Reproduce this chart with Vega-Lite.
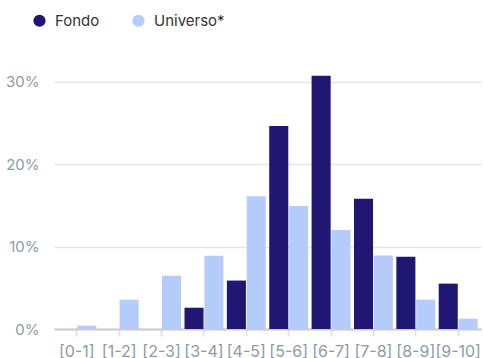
{
  "$schema": "https://vega.github.io/schema/vega-lite/v6.json",
  "autosize": "none",
  "width": 427,
  "height": 264,
  "padding": {"left": 54, "top": 65, "right": 2, "bottom": 29},
  "background": "white",
  "config": {
    "font": "Inter",
    "view": {"stroke": null}
  },
  "data": {
    "values": [
      {"rango": "[0-1]", "serie": "Fondo", "valor": 0.0},
      {"rango": "[0-1]", "serie": "Universo*", "valor": 0.004},
      {"rango": "[1-2]", "serie": "Fondo", "valor": 0.0},
      {"rango": "[1-2]", "serie": "Universo*", "valor": 0.0355},
      {"rango": "[2-3]", "serie": "Fondo", "valor": 0.0},
      {"rango": "[2-3]", "serie": "Universo*", "valor": 0.0645},
      {"rango": "[3-4]", "serie": "Fondo", "valor": 0.0258},
      {"rango": "[3-4]", "serie": "Universo*", "valor": 0.0887},
      {"rango": "[4-5]", "serie": "Fondo", "valor": 0.0587},
      {"rango": "[4-5]", "serie": "Universo*", "valor": 0.161},
      {"rango": "[5-6]", "serie": "Fondo", "valor": 0.246},
      {"rango": "[5-6]", "serie": "Universo*", "valor": 0.149},
      {"rango": "[6-7]", "serie": "Fondo", "valor": 0.307},
      {"rango": "[6-7]", "serie": "Universo*", "valor": 0.120},
      {"rango": "[7-8]", "serie": "Fondo", "valor": 0.158},
      {"rango": "[7-8]", "serie": "Universo*", "valor": 0.089},
      {"rango": "[8-9]", "serie": "Fondo", "valor": 0.0875},
      {"rango": "[8-9]", "serie": "Universo*", "valor": 0.0355},
      {"rango": "[9-10]", "serie": "Fondo", "valor": 0.055},
      {"rango": "[9-10]", "serie": "Universo*", "valor": 0.0125}
    ]
  },
  "mark": {"type": "bar"},
  "encoding": {
    "x": {
      "field": "rango",
      "type": "nominal",
      "sort": null,
      "scale": {"paddingInner": 0.082, "paddingOuter": 0.08},
      "axis": {
        "title": null,
        "labelAngle": 0,
        "labelColor": "#8c9ba5",
        "labelFontSize": 16,
        "labelPadding": 7,
        "tickColor": "#e3e3e3",
        "tickWidth": 2,
        "tickSize": 7,
        "domainColor": "#cccccc",
        "domainWidth": 2,
        "grid": false
      }
    },
    "xOffset": {
      "field": "serie",
      "type": "nominal",
      "sort": ["Fondo", "Universo*"],
      "scale": {"paddingInner": 0.04}
    },
    "y": {
      "field": "valor",
      "type": "quantitative",
      "scale": {"domain": [0, 0.32], "nice": false},
      "axis": {
        "title": null,
        "values": [0, 0.1, 0.2, 0.3],
        "format": ".0%",
        "labelColor": "#8c9ba5",
        "labelFontSize": 15,
        "labelPadding": 15,
        "domain": false,
        "ticks": false,
        "gridColor": "#e6e6e6",
        "gridWidth": 1.5
      }
    },
    "color": {
      "field": "serie",
      "type": "nominal",
      "sort": ["Fondo", "Universo*"],
      "scale": {"domain": ["Fondo", "Universo*"], "range": ["#201674", "#b5cbfa"]},
      "legend": {
        "title": null,
        "orient": "none",
        "direction": "horizontal",
        "legendX": -22,
        "legendY": -52,
        "symbolType": "circle",
        "symbolSize": 150,
        "symbolStrokeWidth": 0,
        "labelFontSize": 15,
        "labelColor": "#333333",
        "labelOffset": 8,
        "columnPadding": 31
      }
    }
  }
}
